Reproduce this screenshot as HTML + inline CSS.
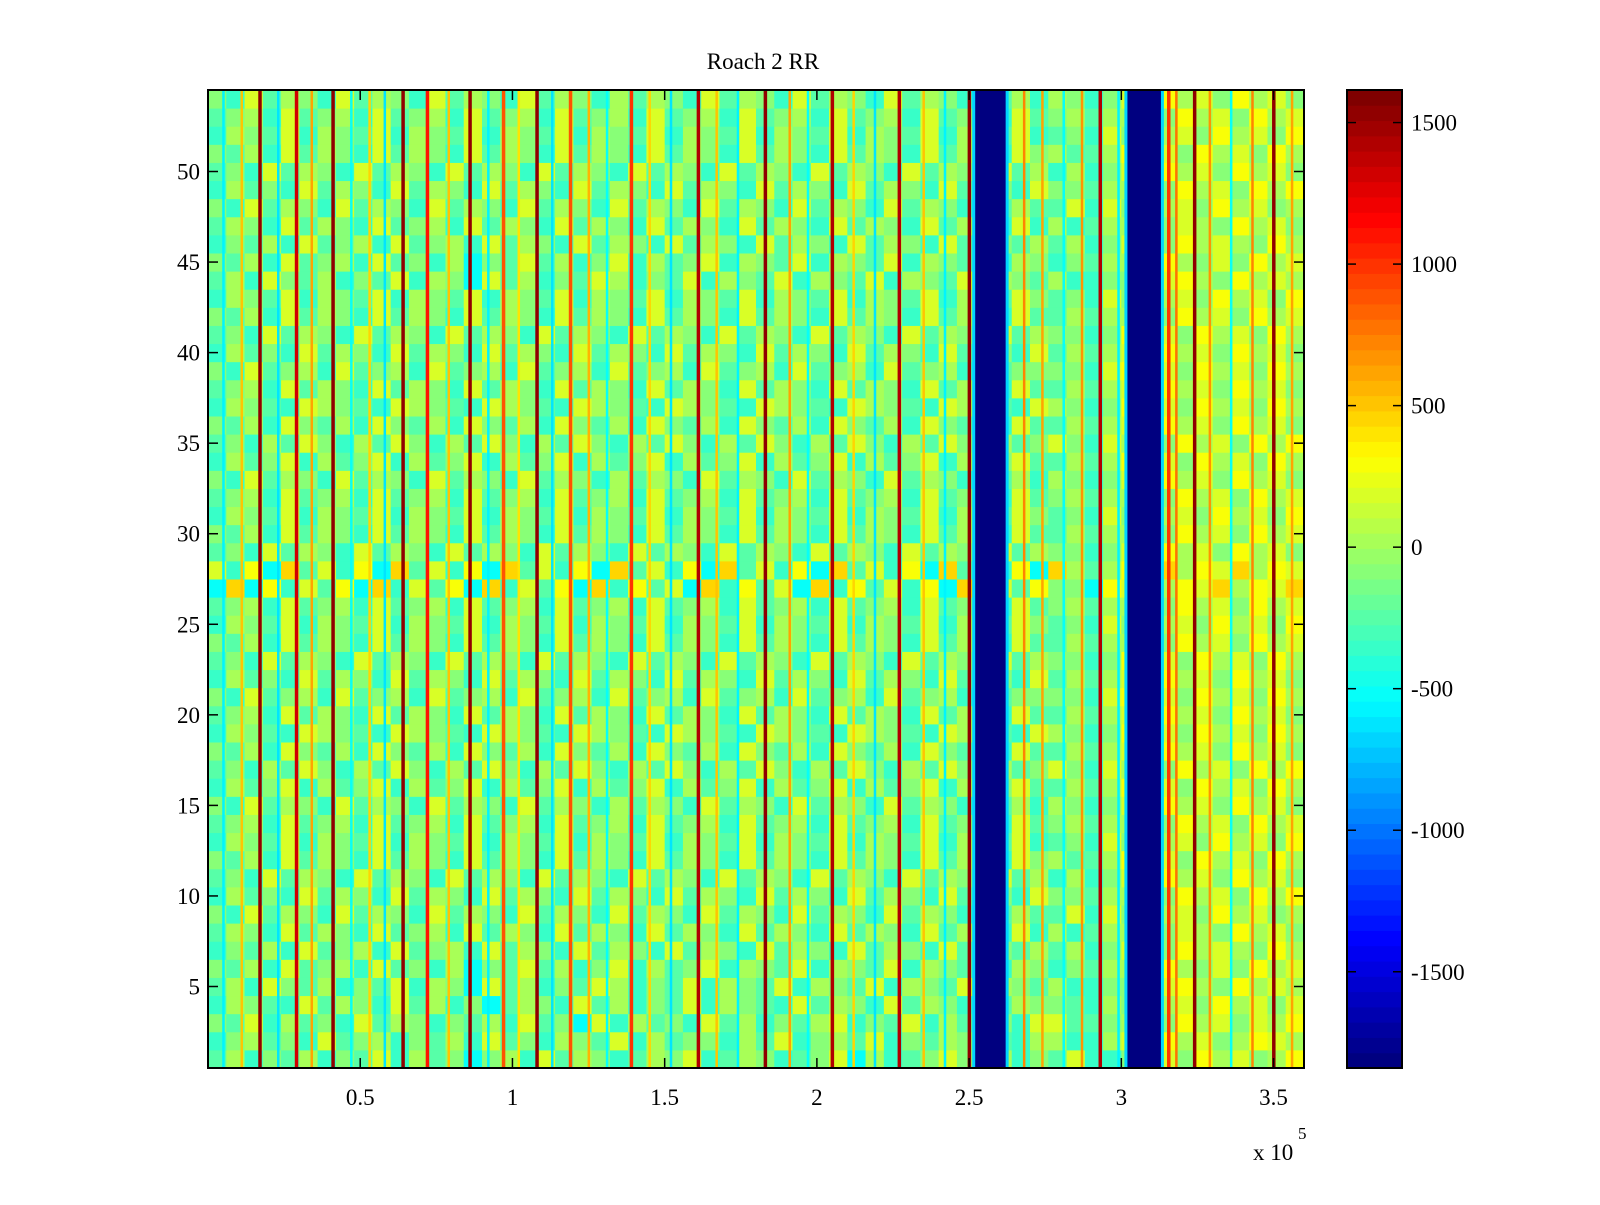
<!DOCTYPE html>
<html><head><meta charset="utf-8"><style>
html,body{margin:0;padding:0;background:#fff;}
svg text{font-family:"Liberation Serif",serif;fill:#000;}
</style></head>
<body>
<svg id="chart" width="1600" height="1200" xmlns="http://www.w3.org/2000/svg">
<rect width="1600" height="1200" fill="#fff"/>
<text x="763" y="69" font-size="23" text-anchor="middle">Roach 2 RR</text>
<g id="cells"></g>
<g id="axes"></g>
<g id="cbar"></g>
</svg>
<script>
const xTicks = [0.5, 1, 1.5, 2, 2.5, 3, 3.5];
const yTicks = [5, 10, 15, 20, 25, 30, 35, 40, 45, 50];
const cTicks = [-1500, -1000, -500, 0, 500, 1000, 1500];
const xMax = 3.6, nRows = 54, cMin = -1840, cMax = 1615;
const levelBase = -780, levelStep = 135;
const rows = [
"463546354736452563746534657346534572634575463547335675867568",
"356453745635463745365473645536473564735465743663367586756876",
"547364537465354637452736453746354673547364553774456758675768",
"365437465374635246537463547365437465374653746554365867586757",
"463754635473652746354763547365473654736547365463355678658676",
"546374563745362547463573645736547365473654736535466786575867",
"354637456374563746537465374653746537465374654646357658676586",
"465374653745637465374653746537465374653746537363466857658675",
"537465374653746537465374653746537465374653746447375867586756",
"364537465374653746537465374653746537465374653755466758675868",
"453746537465374653746537465374653746537465374636357586758675",
"546374653746537465374653746537465374653746537564468675867586",
"365473654736547365473654736547365473654736547345375867586758",
"456374563745637456374563745637456374563745637456466758675867",
"537465374653746537465364653746537465374653746365357586758675",
"364573645736457364573645736457364573645736457446468675867586",
"453647536475364753647536475364753647536475364575376758675868",
"546375463754637546375463754637546375463754637446467586758675",
"365437654376543765437654376543765437654376543765358675867586",
"456374653746537465374653746537465374653746537446467586758675",
"537456374563745637456374563745637456374563745555378675867586",
"364537465374653746537465374653746537465374653746467586758675",
"453746537465374653746537465374653746537465374655358675867586",
"546374653746537465374653746537465374653746537446466758675867",
"365473654736547365473654736547365473654736547545375867586758",
"456374563745637456374563745637456374563745637456466758675867",
"292837482937482937482938472938472938473829374855287968796879",
"738294738294738294738294738294738294738294738296468796879687",
"453746537465374653746537465374653746537465374655357586758675",
"546374653746537465374653746537465374653746537446466758675867",
"365473654736547365473654736547365473654736547545375867586758",
"456374563745637456374563745637456374563745637456466758675867",
"537465374653746537465364653746537465374653746365357586758675",
"364573645736457364573645736457364573645736457446468675867586",
"453647536475364753647536475364753647536475364575376758675868",
"546375463754637546375463754637546375463754637446467586758675",
"365437654376543765437654376543765437654376543765358675867586",
"456374653746537465374653746537465374653746537446467586758675",
"537456374563745637456374563745637456374563745555378675867586",
"364537465374653746537465374653746537465374653746467586758675",
"453746537465374653746537465374653746537465374655358675867586",
"546374653746537465374653746537465374653746537446466758675867",
"365473654736547365473654736547365473654736547545375867586758",
"463754635473652746354763547365473654736547365463355678658676",
"546374563745362547463573645736547365473654736535466786575867",
"354637456374563746537465374653746537465374654646357658676586",
"465374653745637465374653746537465374653746537363466857658675",
"537465374653746537465374653746537465374653746447375867586756",
"364537465374653746537465374653746537465374653755466758675868",
"453746537465374653746537465374653746537465374636357586758675",
"546374653746537465374653746537465374653746537564468675867586",
"365473654736547365473654736547365473654736547345375867586758",
"456374563745637456374563745637456374563745637456466758675867",
"537465374653746537465364653746537465374653746365357586758675"
];
const bandStarts = [2.52, 3.02];
const bandEnds = [2.62, 3.13];
const bandValue = -1840;
const lineXs = [0.17, 0.29, 0.41, 0.64, 0.72, 0.86, 0.97, 1.08, 1.19, 1.39, 1.61, 1.83, 2.05, 2.27, 2.50, 2.93, 3.155, 3.24, 3.50];
const lineVals = [1550, 1300, 1550, 1550, 1100, 1550, 900, 1550, 900, 1000, 1450, 1550, 1450, 1450, 1550, 1400, 1000, 1550, 1550];
const thinXs = [0.05, 0.11, 0.23, 0.34, 0.47, 0.53, 0.58, 0.79, 0.92, 1.02, 1.13, 1.25, 1.31, 1.45, 1.52, 1.67, 1.74, 1.91, 1.97, 2.12, 2.19, 2.35, 2.42, 2.68, 2.74, 2.81, 2.87, 2.99, 3.18, 3.29, 3.36, 3.43, 3.56];
const thinVals = [-550, 500, -600, 600, -500, 450, -600, 500, -550, 400, -600, 550, -500, 450, -600, 500, -550, 600, -500, 450, -600, 500, -550, 700, 600, -500, 650, -550, 800, 650, -500, 700, 600];

const L = 208, R = 1304, T = 90, B = 1068;
const CL = 1347, CR = 1402;
const sx = v => L + (v / xMax) * (R - L);
const sy = v => B - (v - 0.5) / nRows * (B - T);
const sc = v => B - (v - cMin) / (cMax - cMin) * (B - T);

function jet(t) {
  t = Math.max(0, Math.min(1, t));
  const r = Math.max(0, Math.min(1, 1.5 - Math.abs(4 * t - 3)));
  const g = Math.max(0, Math.min(1, 1.5 - Math.abs(4 * t - 2)));
  const b = Math.max(0, Math.min(1, 1.5 - Math.abs(4 * t - 1)));
  return `rgb(${Math.round(r*255)},${Math.round(g*255)},${Math.round(b*255)})`;
}
const col = v => { const t = (v - cMin) / (cMax - cMin); return jet(Math.floor(t * 64) / 63); };

const NS = "http://www.w3.org/2000/svg";
function mk(tag, attrs, parent) {
  const e = document.createElementNS(NS, tag);
  for (const k in attrs) e.setAttribute(k, attrs[k]);
  parent.appendChild(e); return e;
}
const cells = document.getElementById('cells');
const nCols = rows[0].length, cw = xMax / nCols;
rows.forEach((s, ri) => {
  for (let ci = 0; ci < nCols; ci++) {
    const v = levelBase + parseInt(s[ci]) * levelStep;
    const x0 = sx(ci * cw), x1 = sx((ci + 1) * cw);
    const y0 = sy(ri + 1.5), y1 = sy(ri + 0.5);
    const r = mk('rect', {x: x0, y: y0, width: x1 - x0 + 0.5, height: y1 - y0 + 0.5, fill: col(v)}, cells);
    
    
  }
});
thinXs.forEach((x, i) => {
  const r = mk('rect', {x: sx(x) - 1, y: T, width: 2.5, height: B - T, fill: col(thinVals[i])}, cells);
  
  
});
lineXs.forEach((x, i) => {
  const r = mk('rect', {x: sx(x) - 1.5, y: T, width: 3.5, height: B - T, fill: col(lineVals[i])}, cells);
  
  
});
bandStarts.forEach((x, i) => {
  const e1 = mk('rect', {x: sx(x) - 3, y: T, width: sx(bandEnds[i]) - sx(x) + 6, height: B - T, fill: col(-700)}, cells);
  
  
  const r = mk('rect', {x: sx(x), y: T, width: sx(bandEnds[i]) - sx(x), height: B - T, fill: col(bandValue)}, cells);
  
  
});

const ax = document.getElementById('axes');
const frame = mk('rect', {x: L, y: T, width: R - L, height: B - T, fill: 'none', stroke: '#000', 'stroke-width': 2}, ax);


xTicks.forEach(v => {
  const x = sx(v);
  mk('line', {x1: x, x2: x, y1: B, y2: B - 10, stroke: '#000', 'stroke-width': 1.5}, ax);
  mk('line', {x1: x, x2: x, y1: T, y2: T + 10, stroke: '#000', 'stroke-width': 1.5}, ax);
  const t = mk('text', {x: x, y: B + 37, 'font-size': 23, 'text-anchor': 'middle'}, ax);
  t.textContent = String(v);
  
  
});
yTicks.forEach(v => {
  const y = sy(v);
  mk('line', {x1: L, x2: L + 10, y1: y, y2: y, stroke: '#000', 'stroke-width': 1.5}, ax);
  mk('line', {x1: R, x2: R - 10, y1: y, y2: y, stroke: '#000', 'stroke-width': 1.5}, ax);
  const t = mk('text', {x: L - 8, y: y + 8, 'font-size': 23, 'text-anchor': 'end'}, ax);
  t.textContent = String(v);
  
  
});
const ex = mk('text', {x: 1253, y: 1160, 'font-size': 23}, ax);
ex.textContent = 'x 10';


const ex5 = mk('text', {x: 1298, y: 1139, 'font-size': 17}, ax);
ex5.textContent = '5';



const cb = document.getElementById('cbar');
for (let i = 0; i < 64; i++) {
  const v0 = cMin + (cMax - cMin) * i / 64, v1 = cMin + (cMax - cMin) * (i + 1) / 64;
  const r = mk('rect', {x: CL, y: sc(v1), width: CR - CL, height: sc(v0) - sc(v1) + 0.5, fill: jet(i / 63)}, cb);
  
  
}
mk('rect', {x: CL, y: T, width: CR - CL, height: B - T, fill: 'none', stroke: '#000', 'stroke-width': 2}, cb);
cTicks.forEach(v => {
  const y = sc(v);
  mk('line', {x1: CL, x2: CL + 9, y1: y, y2: y, stroke: '#000', 'stroke-width': 1.5}, cb);
  mk('line', {x1: CR, x2: CR - 9, y1: y, y2: y, stroke: '#000', 'stroke-width': 1.5}, cb);
  const t = mk('text', {x: CR + 9, y: y + 8, 'font-size': 23}, cb);
  t.textContent = String(v);
  
  
});
</script>
</body></html>
